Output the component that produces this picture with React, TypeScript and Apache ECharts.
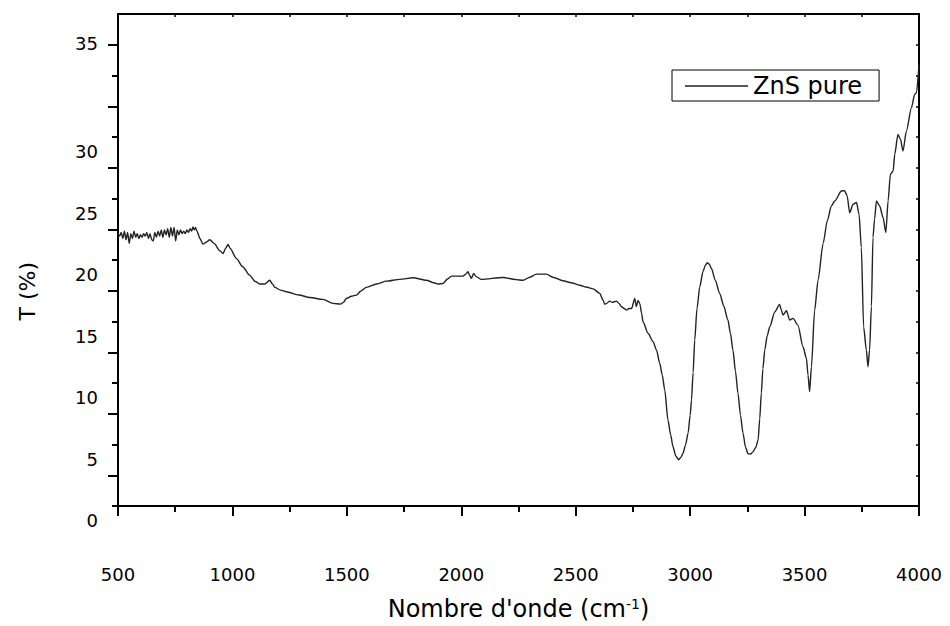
import React, { useEffect, useRef } from 'react';
import * as echarts from 'echarts';

const FONT = 'DejaVu Sans';

// FTIR spectrum of pure ZnS: [wavenumber (cm-1), T (%)]
const noisyRegion: number[][] = [
  [500, 23.3], [507, 23.1], [514, 23.4], [521, 22.9], [528, 23.5], [535, 22.8], [542, 23.4], [549, 22.5],
  [556, 23.3], [563, 22.9], [570, 23.5], [577, 23.0], [584, 23.3], [591, 22.9], [598, 23.2], [605, 23.0],
  [612, 23.3], [619, 23.1], [626, 23.4], [633, 22.9], [640, 23.3], [647, 22.8], [654, 22.7], [661, 23.4],
  [668, 23.0], [675, 23.5], [682, 23.1], [689, 23.6], [696, 23.0], [703, 23.6], [710, 23.2], [717, 23.7],
  [724, 23.0], [731, 23.8], [738, 23.1], [745, 23.8], [752, 22.7], [759, 23.6], [766, 23.2], [773, 23.6],
  [780, 23.3], [787, 23.5], [794, 23.3], [801, 23.6], [808, 23.4], [815, 23.7], [822, 23.5], [827, 23.85],
  [833, 23.6], [838, 23.8], [845, 23.5],
];

const fingerprintRegion: number[][] = [
  [858, 22.9], [871, 22.44], [885, 22.6], [901, 22.8], [920, 22.5], [945, 21.9], [959, 21.68], [970, 22.1],
  [981, 22.41], [990, 22.1], [1017, 21.28], [1045, 20.6], [1075, 19.92], [1100, 19.4], [1119, 19.19],
  [1141, 19.19], [1163, 19.5], [1175, 19.2], [1185, 18.92], [1210, 18.7], [1236, 18.56], [1290, 18.3],
  [1338, 18.1], [1396, 17.94], [1439, 17.62], [1472, 17.56], [1485, 17.7], [1498, 18.02], [1520, 18.2],
  [1542, 18.29], [1560, 18.6], [1585, 18.92], [1630, 19.2], [1673, 19.43], [1731, 19.57], [1789, 19.7],
  [1848, 19.5], [1880, 19.3], [1898, 19.19], [1920, 19.24], [1940, 19.6], [1957, 19.84], [2008, 19.84],
  [2020, 20.0], [2029, 20.19], [2037, 19.9], [2044, 19.65], [2054, 20.06], [2065, 19.8], [2088, 19.57],
  [2182, 19.73], [2240, 19.55], [2270, 19.5], [2300, 19.75], [2328, 20.0], [2372, 20.0], [2400, 19.75],
  [2444, 19.46], [2480, 19.3], [2517, 19.1], [2545, 18.95], [2576, 18.8], [2605, 18.43], [2619, 17.9],
  [2627, 17.54], [2634, 17.6], [2648, 17.8], [2660, 17.7], [2678, 17.8], [2690, 17.6], [2700, 17.34],
  [2712, 17.2], [2722, 17.07], [2733, 17.2], [2744, 17.2], [2758, 18.02], [2765, 17.35], [2772, 17.85],
  [2780, 17.6], [2788, 16.8], [2794, 16.12],
];

const bandRegion: number[][] = [
  [2816, 15.18], [2838, 14.5], [2853, 13.82], [2867, 12.74], [2878, 11.8], [2889, 10.57], [2903, 8.13],
  [2915, 6.9], [2925, 5.96], [2937, 5.2], [2950, 4.88], [2960, 5.1], [2969, 5.42], [2980, 6.1], [2991, 7.05],
  [3000, 8.5], [3006, 9.76], [3013, 12.0], [3020, 14.63], [3030, 17.2], [3042, 18.97], [3056, 20.19],
  [3066, 20.7], [3075, 20.92], [3084, 20.8], [3093, 20.46], [3110, 19.5], [3129, 18.43], [3147, 17.4],
  [3165, 16.26], [3176, 15.2], [3187, 13.82], [3198, 12.1], [3209, 10.3], [3220, 8.5], [3231, 7.05],
  [3242, 5.9], [3253, 5.37], [3264, 5.35], [3275, 5.55], [3287, 5.9], [3297, 6.5], [3304, 8.2],
  [3311, 10.3], [3318, 12.3], [3326, 13.82], [3337, 15.0], [3348, 15.72], [3370, 16.93], [3391, 17.54],
  [3398, 17.1], [3406, 16.67], [3421, 17.02], [3435, 16.26], [3450, 16.4], [3471, 15.85], [3493, 14.09],
  [3508, 13.15], [3515, 11.8], [3522, 10.43], [3530, 12.46], [3544, 17.07], [3559, 19.51], [3581, 22.5],
];

const highRegion: number[][] = [
  [3600, 24.4], [3617, 25.55], [3632, 25.96], [3661, 26.77], [3675, 26.8], [3686, 26.37], [3697, 25.0],
  [3712, 25.69], [3727, 25.83], [3738, 24.88], [3748, 22.17], [3758, 15.72], [3770, 13.82], [3777, 12.46],
  [3784, 13.82], [3792, 17.34], [3799, 23.0], [3806, 24.5], [3814, 25.96], [3828, 25.55], [3843, 24.61],
  [3855, 23.39], [3865, 25.96], [3875, 28.13], [3887, 28.4], [3894, 29.76], [3908, 31.38], [3919, 30.98],
  [3930, 30.03], [3945, 31.65], [3967, 33.55], [3981, 34.63], [3989, 34.77], [4000, 37.07],
];

const seriesName = 'ZnS pure';
const xTicks = { min: 500, max: 4000, step: 500 };
// printed y tick labels and the value at which each one is printed in the figure
const yTickLabels = ['0', '5', '10', '15', '20', '25', '30', '35'];
const yTickLabelAt = [0, 5, 10, 15, 20, 25, 30, 38.76];
// frame tick marks (tick scale of the frame: 0..40)
const yLongTicks = [2.5, 7.5, 12.5, 17.5, 22.5, 27.5, 32.5, 37.5];
const yShortTicks = [0, 5, 10, 15, 20, 25, 30, 35];

export default function App() {
  const ref = useRef<HTMLDivElement>(null);

  useEffect(() => {
    if (!ref.current) return;
    const chart = echarts.init(ref.current, null, { renderer: 'svg' });
    const spectrum = [...noisyRegion, ...fingerprintRegion, ...bandRegion, ...highRegion];
    const black = '#000';
    const lineColor = '#222222';
    const frameLine = { show: true, onZero: false, lineStyle: { color: black, width: 2 } };

    const option: any = {
      animation: false,
      backgroundColor: '#ffffff',
      grid: [
        { left: 118, right: 31, top: 14, bottom: 119 },
        { left: 118, right: 31, top: 14, bottom: 105.5 },
      ],
      legend: {
        show: true,
        data: [{ name: seriesName, icon: 'rect' }],
        left: 672,
        top: 70,
        itemWidth: 63,
        itemHeight: 1.3,
        padding: [4, 17, 3, 13],
        borderColor: black,
        borderWidth: 1,
        itemStyle: { color: lineColor },
        textStyle: { fontSize: 24, color: black, fontFamily: FONT },
      },
      xAxis: [
        {
          type: 'value',
          gridIndex: 0,
          position: 'bottom',
          min: xTicks.min,
          max: xTicks.max,
          interval: xTicks.step,
          axisLine: frameLine,
          axisTick: { show: true, length: 10, lineStyle: { color: black, width: 2 } },
          minorTick: { show: true, splitNumber: 2, length: 6, lineStyle: { color: black, width: 2 } },
          splitLine: { show: false },
          minorSplitLine: { show: false },
          axisLabel: {
            margin: 59,
            color: black,
            fontSize: 18,
            fontFamily: FONT,
            formatter: (v: number) => String(v),
          },
          name: "Nombre d'onde (cm{sup|-1})",
          nameLocation: 'middle',
          nameGap: 91,
          nameTextStyle: {
            fontSize: 24,
            color: black,
            fontFamily: FONT,
            rich: {
              sup: { fontSize: 14, color: black, fontFamily: FONT, verticalAlign: 'top', lineHeight: 14 },
            },
          },
        },
        {
          type: 'value',
          gridIndex: 0,
          position: 'top',
          min: xTicks.min,
          max: xTicks.max,
          interval: xTicks.step / 2,
          axisLine: frameLine,
          axisTick: { show: true, inside: true, length: 3, lineStyle: { color: black, width: 1.5 } },
          axisLabel: { show: false },
          splitLine: { show: false },
        },
        { type: 'value', gridIndex: 1, show: false, min: xTicks.min, max: xTicks.max },
      ],
      yAxis: [
        {
          // data axis (values read on the printed labels)
          type: 'value',
          gridIndex: 0,
          position: 'left',
          min: 1.12,
          max: 41.18,
          show: false,
          splitLine: { show: false },
        },
        {
          type: 'value',
          gridIndex: 0,
          position: 'left',
          min: 0,
          max: 40,
          axisLine: frameLine,
          axisTick: { show: true, length: 10, customValues: yLongTicks, lineStyle: { color: black, width: 2 } },
          axisLabel: { show: false },
          splitLine: { show: false },
        },
        {
          type: 'value',
          gridIndex: 0,
          position: 'left',
          min: 0,
          max: 40,
          axisLine: { show: false },
          axisTick: { show: true, length: 6, customValues: yShortTicks, lineStyle: { color: black, width: 2 } },
          axisLabel: { show: false },
          splitLine: { show: false },
        },
        {
          type: 'value',
          gridIndex: 0,
          position: 'right',
          min: 0,
          max: 40,
          interval: 2.5,
          axisLine: frameLine,
          axisTick: { show: true, inside: true, length: 3, lineStyle: { color: black, width: 1.5 } },
          axisLabel: { show: false },
          splitLine: { show: false },
        },
        {
          // printed labels
          type: 'value',
          gridIndex: 1,
          position: 'left',
          min: 0,
          max: 41.18,
          axisLine: { show: false },
          axisTick: { show: false },
          splitLine: { show: false },
          axisLabel: {
            show: true,
            margin: 20,
            color: black,
            fontSize: 18,
            fontFamily: FONT,
            customValues: yTickLabelAt,
            formatter: (v: number) => {
              let best = -1;
              let d = Infinity;
              yTickLabelAt.forEach((p, i) => {
                const dd = Math.abs(p - v);
                if (dd < d) { d = dd; best = i; }
              });
              return best >= 0 && d < 0.5 ? yTickLabels[best] : '';
            },
          },
          name: 'T (%)',
          nameLocation: 'middle',
          nameGap: 80,
          nameTextStyle: { fontSize: 22, color: black, fontFamily: FONT, padding: [0, 48, 0, 0] },
        },
      ],
      series: [
        {
          name: seriesName,
          type: 'line',
          xAxisIndex: 0,
          yAxisIndex: 0,
          data: spectrum,
          symbol: 'none',
          showSymbol: false,
          smooth: 0.25,
          smoothMonotone: 'x',
          lineStyle: { color: lineColor, width: 1.4 },
          itemStyle: { color: lineColor },
        },
      ],
    };

    chart.setOption(option);
    return () => chart.dispose();
  }, []);

  return (
    <div
      ref={ref}
      style={{ position: 'fixed', left: 0, top: 0, width: 950, height: 626, background: '#fff' }}
    />
  );
}
